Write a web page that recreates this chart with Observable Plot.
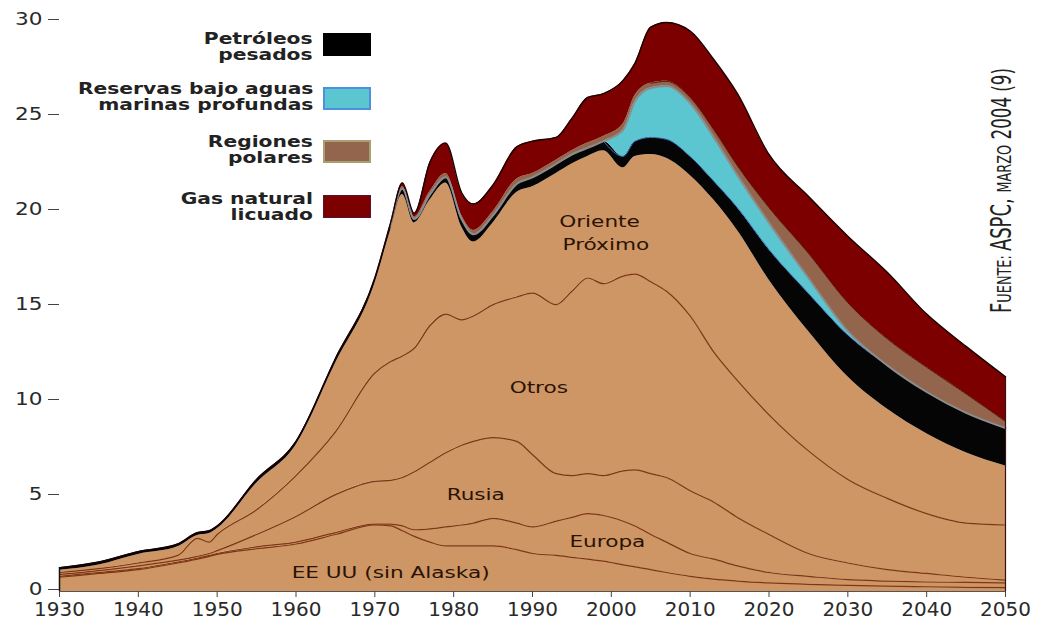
<!DOCTYPE html>
<html><head><meta charset="utf-8">
<script src="https://cdn.jsdelivr.net/npm/d3@7"></script>
<script src="https://cdn.jsdelivr.net/npm/@observablehq/plot@0.6"></script>
<style>
body{margin:0;background:#fff;}
#wrap{position:relative;width:1041px;height:621px;font-family:"DejaVu Sans",sans-serif;overflow:hidden}
.leg-text{position:absolute;right:728px;text-align:right;font-weight:bold;font-size:15px;line-height:16px;color:#222;}
.leg-line{display:block;transform-origin:right center;white-space:nowrap;transform:scaleX(1.35)}
.leg-sw{position:absolute;left:323px;width:48px;height:23px;box-sizing:border-box}
</style></head><body><div id="wrap"></div>
<script>
// ---- data (cumulative top of each layer) ----
const years = [1930,1935,1940,1945,1947.5,1949,1950,1955,1960,1965,1970,1972,1973.5,1975,1977,1979,1981,1982.5,1985,1988,1990,1993,1995,1997,1999,2001.5,2003,2005,2007,2010,2013,2016,2020,2025,2030,2035,2040,2045,2050];
const eeuuTop    = [0.75,0.95,1.15,1.5,1.7,1.85,1.95,2.25,2.5,3.0,3.5,3.45,3.2,2.9,2.6,2.4,2.4,2.4,2.4,2.2,2.0,1.9,1.8,1.7,1.6,1.4,1.3,1.15,1.0,0.8,0.65,0.55,0.45,0.38,0.32,0.28,0.25,0.22,0.2];
const europaTop  = [0.8,1.0,1.2,1.55,1.75,1.9,2.0,2.35,2.6,3.1,3.55,3.55,3.45,3.25,3.3,3.4,3.5,3.6,3.85,3.6,3.4,3.7,3.9,4.1,4.0,3.7,3.45,3.0,2.6,2.0,1.7,1.35,1.0,0.8,0.62,0.55,0.5,0.48,0.45];
const rusiaTop   = [0.9,1.1,1.35,1.65,1.85,2.0,2.15,3.0,3.95,5.1,5.8,5.85,6.0,6.3,6.8,7.3,7.7,7.9,8.1,7.9,7.2,6.2,6.1,6.2,6.1,6.35,6.4,6.2,6.0,5.3,4.7,3.9,3.0,2.0,1.5,1.15,0.95,0.75,0.6];
const otrosTop   = [1.0,1.2,1.5,1.9,2.8,2.6,3.0,4.3,6.1,8.4,11.5,12.1,12.4,12.8,14.0,14.6,14.3,14.5,15.1,15.5,15.7,15.1,15.8,16.5,16.2,16.6,16.7,16.3,15.8,14.5,12.6,11.1,9.3,7.4,5.9,4.9,4.1,3.6,3.5];
const orienteTop = [1.12,1.4,1.95,2.35,2.95,3.05,3.3,5.7,7.7,12.0,16.2,19.0,20.9,19.4,20.6,21.5,19.2,18.4,19.4,21.0,21.3,22.0,22.5,22.9,23.2,22.3,22.9,23.0,22.8,21.9,20.6,19.0,16.4,13.7,11.3,9.6,8.3,7.3,6.6];
const pesadosTop = [1.25,1.55,2.1,2.5,3.1,3.2,3.45,5.9,7.9,12.25,16.45,19.25,21.2,19.6,20.9,21.8,19.6,18.8,19.8,21.45,21.8,22.5,23.0,23.35,23.7,22.9,23.7,23.9,23.8,22.9,21.6,20.2,18.0,15.7,13.5,11.9,10.5,9.4,8.6];
const aguasTop   = [1.25,1.55,2.1,2.5,3.1,3.2,3.45,5.9,7.9,12.25,16.45,19.25,21.2,19.6,20.9,21.8,19.6,18.8,19.8,21.45,21.8,22.5,23.0,23.35,23.7,24.3,25.8,26.5,26.6,25.7,23.9,21.9,19.4,16.5,13.7,11.9,10.5,9.4,8.6];
const polaresTop = [1.25,1.55,2.1,2.5,3.1,3.2,3.45,5.9,7.9,12.25,16.45,19.3,21.3,19.7,21.05,22.0,19.8,19.0,20.0,21.7,22.0,22.7,23.2,23.6,23.95,24.6,26.1,26.75,26.85,26.0,24.3,22.4,20.2,17.8,15.2,13.3,11.8,10.4,8.95];
const gnlTop     = [1.25,1.55,2.1,2.5,3.1,3.2,3.45,5.9,7.9,12.25,16.5,19.4,21.5,19.9,22.6,23.6,21.0,20.4,21.4,23.4,23.7,23.9,24.9,26.0,26.2,26.9,27.8,29.7,29.95,29.5,28.0,26.2,23.0,20.8,18.7,16.8,14.6,12.9,11.3];

const xTicks = [1930,1940,1950,1960,1970,1980,1990,2000,2010,2020,2030,2040,2050];
const yTicks = [0,5,10,15,20,25,30];
const legendNames = ["Petróleos\npesados","Reservas bajo aguas\nmarinas profundas","Regiones\npolares","Gas natural\nlicuado"];
const regionNames = ["EE UU (sin Alaska)","Europa","Rusia","Otros","Oriente","Próximo"];

// ---- table built from the arrays ----
const rows = years.map((year,i)=>({year, base:0, eeuu:eeuuTop[i], europa:europaTop[i], rusia:rusiaTop[i], otros:otrosTop[i],
  oriente:orienteTop[i], pesados:pesadosTop[i], aguas:aguasTop[i], polares:polaresTop[i], gnl:gnlTop[i]}));

const TAN="#cd9664", LINE="#7e3614";
const layers = [
  ["base","eeuu",TAN],["eeuu","europa",TAN],["europa","rusia",TAN],["rusia","otros",TAN],["otros","oriente",TAN],
  ["oriente","pesados","#050505"],["pesados","aguas","#5bc6d0"],["aguas","polares","#93654c"],["polares","gnl","#7d0000"]
];
const curve = "monotone-x";
const marks = layers.map(([lo,hi,fill])=>Plot.areaY(rows,{x:"year",y1:lo,y2:hi,fill,curve}));
["eeuu","europa","rusia","otros"].forEach(k=>marks.push(Plot.lineY(rows,{x:"year",y:k,stroke:LINE,strokeWidth:1.2,curve})));
marks.push(Plot.lineY(rows.filter(d=>d.year>=1999),{x:"year",y:"pesados",stroke:"#3b78c8",strokeWidth:1,curve}));
marks.push(Plot.lineY(rows.filter(d=>d.year>=1972),{x:"year",y:"aguas",stroke:"#8c8c8c",strokeWidth:2,curve}));
marks.push(Plot.lineY(rows.filter(d=>d.year>=2005),{x:"year",y:"polares",stroke:"#5a1a0a",strokeWidth:1,curve}));
marks.push(Plot.lineY(rows,{x:"year",y:"gnl",stroke:"#1a0000",strokeWidth:1.4,curve}));
marks.push(Plot.ruleX([rows[0]],{x:"year",y1:"base",y2:"gnl",stroke:"#111",strokeWidth:1.5}));
marks.push(Plot.ruleX([rows[rows.length-1]],{x:"year",y1:"base",y2:"gnl",stroke:"#3a1010",strokeWidth:1.2}));
marks.push(Plot.ruleY([0],{stroke:"#555",strokeWidth:1.2}));
marks.push(Plot.axisX({ticks:xTicks,tickFormat:d=>String(d),tickSize:6,tickPadding:4,fontSize:20,stroke:"#444",fill:"#2a2a2a",label:null}));
marks.push(Plot.axisY({ticks:yTicks,tickFormat:d=>String(d),tickSize:11,tickPadding:6,fontSize:17,dy:-2,stroke:"#444",fill:"#2a2a2a",label:null}));

// region labels (anchors in data units)
const labelAnchors = [
  {text:regionNames[0],year:1972.0,value:1.0},
  {text:regionNames[1],year:1999.5,value:2.63},
  {text:regionNames[2],year:1982.8,value:5.1},
  {text:regionNames[3],year:1990.8,value:10.74},
  {text:regionNames[4],year:1998.5,value:19.47},
  {text:regionNames[5],year:1999.3,value:18.26}
];
marks.push(Plot.text(labelAnchors,{x:"year",y:"value",text:"text",fontSize:16,fill:"#2b1205",fontFamily:"DejaVu Sans"}));

const chart = Plot.plot({
  width:1041,height:621,marginLeft:59,marginRight:36,marginTop:21,marginBottom:30,
  x:{domain:[1930,2050]}, y:{domain:[0,30]},
  style:{fontFamily:"DejaVu Sans",background:"transparent",overflow:"visible"},
  marks
});
const wrap = document.getElementById("wrap");
wrap.appendChild(chart);

// horizontal stretch of text to match the reference lettering
function stretch(sel,f){chart.querySelectorAll(sel).forEach(t=>{const w=t.getComputedTextLength();t.setAttribute("textLength",w*f);t.setAttribute("lengthAdjust","spacingAndGlyphs");});}
stretch('g[aria-label="y-axis tick label"] text',1.27);
stretch('g[aria-label="text"] text',1.35);

// source note (rotated, reads bottom to top)
const src = d3.select(chart).append("text").attr("transform","translate(1011,313) rotate(-90)")
  .attr("text-anchor","start")
  .attr("font-family","'Liberation Sans Narrow','DejaVu Sans Condensed','DejaVu Sans',sans-serif").attr("font-size",28).attr("fill","#222");
[["F",28],["UENTE: ",20],["ASPC, ",28],["MARZO",20],[" 2004 (9)",26]].forEach(([t,s])=>src.append("tspan").attr("font-size",s).text(t));
src.attr("textLength",245).attr("lengthAdjust","spacingAndGlyphs");

// legend (HTML overlay)
const legTops=[30.5,80.5,134,191], swTops=[33,87,140,195];
const swStyle=["background:#000","background:#5bc6d0;border:2px solid #4d8fe0","background:#93654c;border:2px solid #a8a070","background:#7d0000;border:1px solid #5a1030"];
legendNames.forEach((name,i)=>{
  const d=document.createElement("div");d.className="leg-text";d.style.top=legTops[i]+"px";
  name.split("\n").forEach(l=>{const s=document.createElement("span");s.className="leg-line";s.textContent=l;d.appendChild(s);});
  wrap.appendChild(d);
  const sw=document.createElement("div");sw.className="leg-sw";sw.style.top=swTops[i]+"px";sw.style.cssText+=";"+swStyle[i];
  wrap.appendChild(sw);
});
</script></body></html>
